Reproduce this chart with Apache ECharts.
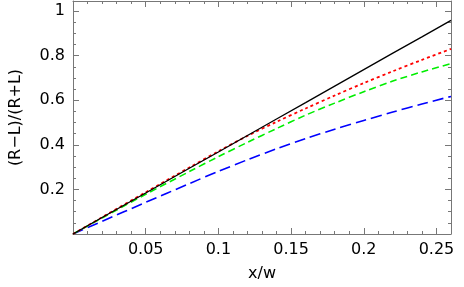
<!DOCTYPE html>
<html>
<head>
<meta charset="utf-8">
<script src="https://cdn.jsdelivr.net/npm/echarts@6/dist/echarts.min.js"></script>
<style>html,body{margin:0;padding:0;background:#fff}#c{width:464px;height:287px}</style>
</head>
<body>
<div id="c"></div>
<script>
var xs =        [0, 0.02, 0.05, 0.08, 0.1, 0.12, 0.14, 0.16, 0.18, 0.2, 0.22, 0.24, 0.26];
var blackVals = [0, 0.074, 0.184, 0.295, 0.368, 0.442, 0.516, 0.589, 0.663, 0.737, 0.811, 0.884, 0.958];
var redVals =   [0, 0.075, 0.187, 0.298, 0.371, 0.44, 0.503, 0.563, 0.621, 0.677, 0.73, 0.781, 0.83];
var greenVals = [0, 0.072, 0.178, 0.28, 0.347, 0.411, 0.473, 0.533, 0.587, 0.638, 0.686, 0.727, 0.764];
var blueVals =  [0, 0.057, 0.142, 0.226, 0.281, 0.333, 0.382, 0.428, 0.47, 0.509, 0.547, 0.583, 0.617];
var xTickLabels = ['0.05', '0.1', '0.15', '0.2', '0.25'];
var yTickLabels = ['0.2', '0.4', '0.6', '0.8', '1'];

function pairs(v){ return xs.map(function(x,i){ return [x, v[i]]; }); }
var FONT = 'DejaVu Sans';
var frameColor = '#777';
function fmt(list){
  return function(v){
    var s = String(parseFloat(v.toFixed(4)));
    return list.indexOf(s) >= 0 ? s : '';
  };
}
function axisCommon(extra){
  var base = {
    type: 'value',
    axisLine: {show: true, onZero: false, lineStyle: {color: frameColor, width: 1}},
    axisTick: {show: true, inside: true, length: 6, lineStyle: {color: frameColor}},
    splitLine: {show: false},
    minorSplitLine: {show: false}
  };
  for (var k in extra) base[k] = extra[k];
  return base;
}
var chart = echarts.init(document.getElementById('c'), null, {renderer: 'canvas'});
var xMin = 0, xMax = 0.26, yMin = 0, yMax = 1.045;
chart.setOption({
  animation: false,
  grid: {left: 69, right: 13, top: 1, bottom: 51, containLabel: false},
  xAxis: [
    axisCommon({position: 'bottom', min: xMin, max: xMax, interval: 0.05,
      minorTick: {show: true, splitNumber: 5, length: 3, lineStyle: {color: frameColor}},
      name: 'x/w', nameLocation: 'middle', nameGap: 32,
      nameTextStyle: {fontFamily: FONT, fontSize: 16, color: '#000'},
      axisLabel: {fontFamily: FONT, fontSize: 16, color: '#000', margin: 8, formatter: fmt(xTickLabels), showMaxLabel: false}}),
    axisCommon({position: 'top', min: xMin, max: xMax, interval: 0.05,
      minorTick: {show: true, splitNumber: 5, length: 3, lineStyle: {color: frameColor}},
      axisLabel: {show: false}})
  ],
  yAxis: [
    axisCommon({position: 'left', min: yMin, max: yMax, interval: 0.2,
      minorTick: {show: true, splitNumber: 4, length: 3, lineStyle: {color: frameColor}},
      name: '(R\u2212L)/(R+L)', nameLocation: 'middle', nameGap: 49,
      nameTextStyle: {fontFamily: FONT, fontSize: 16, color: '#000'},
      axisLabel: {fontFamily: FONT, fontSize: 16, color: '#000', margin: 8, formatter: fmt(yTickLabels), showMaxLabel: false}}),
    axisCommon({position: 'right', min: yMin, max: yMax, interval: 0.2,
      minorTick: {show: true, splitNumber: 4, length: 3, lineStyle: {color: frameColor}},
      axisLabel: {show: false}})
  ],
  series: [
    {type: 'line', data: pairs(blueVals), showSymbol: false, smooth: 0.3,
      lineStyle: {color: '#0000ff', width: 1.6, type: [11, 5]}},
    {type: 'line', data: pairs(greenVals), showSymbol: false, smooth: 0.3,
      lineStyle: {color: '#00ee00', width: 1.6, type: [7, 4]}},
    {type: 'line', data: pairs(redVals), showSymbol: false, smooth: 0.3,
      lineStyle: {color: '#ff0000', width: 1.8, type: [3, 3]}},
    {type: 'line', data: pairs(blackVals), showSymbol: false, smooth: false,
      lineStyle: {color: '#000000', width: 1.3, type: 'solid'}}
  ]
});
</script>
</body>
</html>
